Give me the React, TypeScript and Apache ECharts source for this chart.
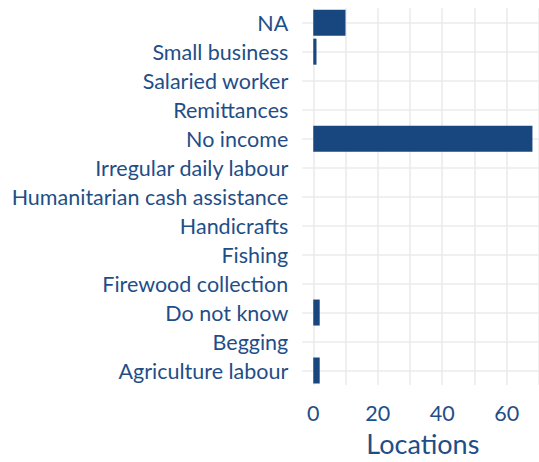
import React, { useEffect, useRef } from "react";
import * as echarts from "echarts";

// categories listed bottom -> top
const categories = [
  "Agriculture labour",
  "Begging",
  "Do not know",
  "Firewood collection",
  "Fishing",
  "Handicrafts",
  "Humanitarian cash assistance",
  "Irregular daily labour",
  "No income",
  "Remittances",
  "Salaried worker",
  "Small business",
  "NA",
];
const locations = [2, 0, 2, 0, 0, 0, 0, 0, 68, 0, 0, 1, 10];
const gridValues = [0, 10, 20, 30, 40, 50, 60, 70];
const tickLabels = [0, 20, 40, 60];

const TEXT = "#1f4e87";
const BAR = "#17477e";
const FONT = "Lato";

export default function App() {
  const ref = useRef<HTMLDivElement>(null);
  useEffect(() => {
    if (!ref.current) return;
    const chart = echarts.init(ref.current, null, { renderer: "svg" });
    chart.setOption({
      animation: false,
      backgroundColor: "#ffffff",
      grid: { left: 302.3, right: 0.6, top: 8.2, bottom: 75.8, containLabel: false },
      xAxis: {
        type: "value",
        min: -3.4,
        max: 71.4,
        name: "Locations",
        nameLocation: "middle",
        nameGap: 45,
        nameTextStyle: { color: TEXT, fontFamily: FONT, fontSize: 27 },
        axisLine: { show: false },
        axisTick: { show: false, customValues: gridValues },
        axisLabel: {
          customValues: tickLabels,
          color: TEXT,
          fontFamily: FONT,
          fontSize: 21.5,
          margin: 17,
        },
        splitLine: { show: true, lineStyle: { color: "#ebebeb", width: 1.6 } },
      },
      yAxis: {
        type: "category",
        data: categories,
        axisLine: { show: false },
        axisTick: { show: false, alignWithLabel: true },
        axisLabel: { color: TEXT, fontFamily: FONT, fontSize: 21.5, margin: 14 },
        splitLine: { show: true, alignWithLabel: true, lineStyle: { color: "#ebebeb", width: 1.6 } },
      },
      series: [
        {
          type: "bar",
          data: locations,
          barWidth: 26,
          itemStyle: { color: BAR },
        },
      ],
    });
    return () => chart.dispose();
  }, []);
  return (
    <div
      style={{ position: "fixed", left: 0, top: 0, width: 539, height: 462, overflow: "hidden", background: "#ffffff" }}
    >
      <div ref={ref} style={{ width: 544, height: 462 }} />
    </div>
  );
}
